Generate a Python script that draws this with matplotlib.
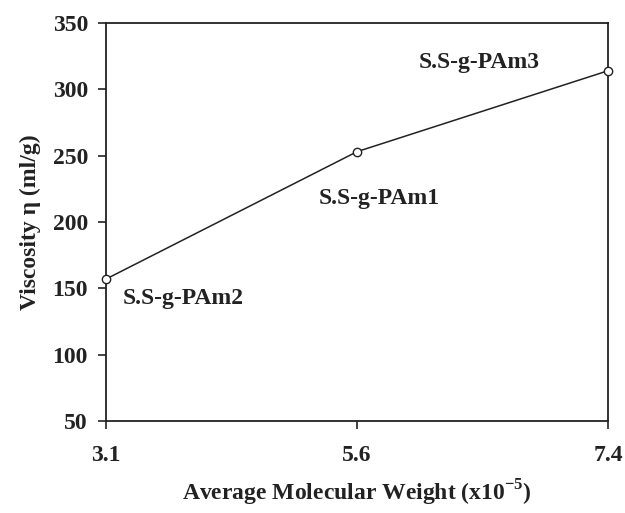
import numpy as np
from matplotlib import pyplot as plt

# data
mol_weight = ['3.1', '5.6', '7.4']
viscosity = [157, 253, 314]
samples = ['S.S-g-PAm2', 'S.S-g-PAm1', 'S.S-g-PAm3']
# where each sample label sits (category units, viscosity units)
label_x = [0.068, 0.847, 1.245]
label_y = [142, 218, 320]

plt.rcParams['font.family'] = ['Liberation Serif', 'DejaVu Serif']
plt.rcParams['font.weight'] = 'bold'
plt.rcParams['mathtext.fontset'] = 'custom'
plt.rcParams['mathtext.bf'] = 'Liberation Serif:bold'

fig = plt.figure(figsize=(6.25, 5.13), dpi=100)
ax = fig.add_axes([106 / 625, 1 - 421 / 513, 502 / 625, 398 / 513])

x = np.arange(len(mol_weight))
ax.plot(x, viscosity, color='#222222', lw=1.1, marker='o', ms=6,
        mfc='white', mec='#222222', mew=1.0, clip_on=False, zorder=3)

ax.set_xlim(0, 2)
ax.set_ylim(50, 350)
ax.set_xticks(x)
ax.set_xticklabels(mol_weight)
ax.set_yticks(np.arange(50, 351, 50))
ax.tick_params(axis='both', labelsize=17, direction='out', length=6,
               width=1.2, colors='#222222')
ax.tick_params(axis='x', pad=11)
ax.tick_params(axis='y', pad=7)
for lbl in ax.get_xticklabels() + ax.get_yticklabels():
    lbl.set_fontweight('bold')
for sp in ax.spines.values():
    sp.set_linewidth(1.3)
    sp.set_color('#222222')

# sample labels
for lx, ly, name in zip(label_x, label_y, samples):
    ax.text(lx, ly, name, fontsize=17, fontweight='bold', color='#222222',
            ha='left', va='center')

ax.set_xlabel('Average Molecular Weight (x10$^{\\mathbf{-5}}$)', fontsize=17,
              fontweight='bold', labelpad=9, color='#222222')
ax.set_ylabel('Viscosity \u03b7 (ml/g)', fontsize=17, fontweight='bold',
              labelpad=8, color='#222222')

fig.savefig('out.png', dpi=100)
